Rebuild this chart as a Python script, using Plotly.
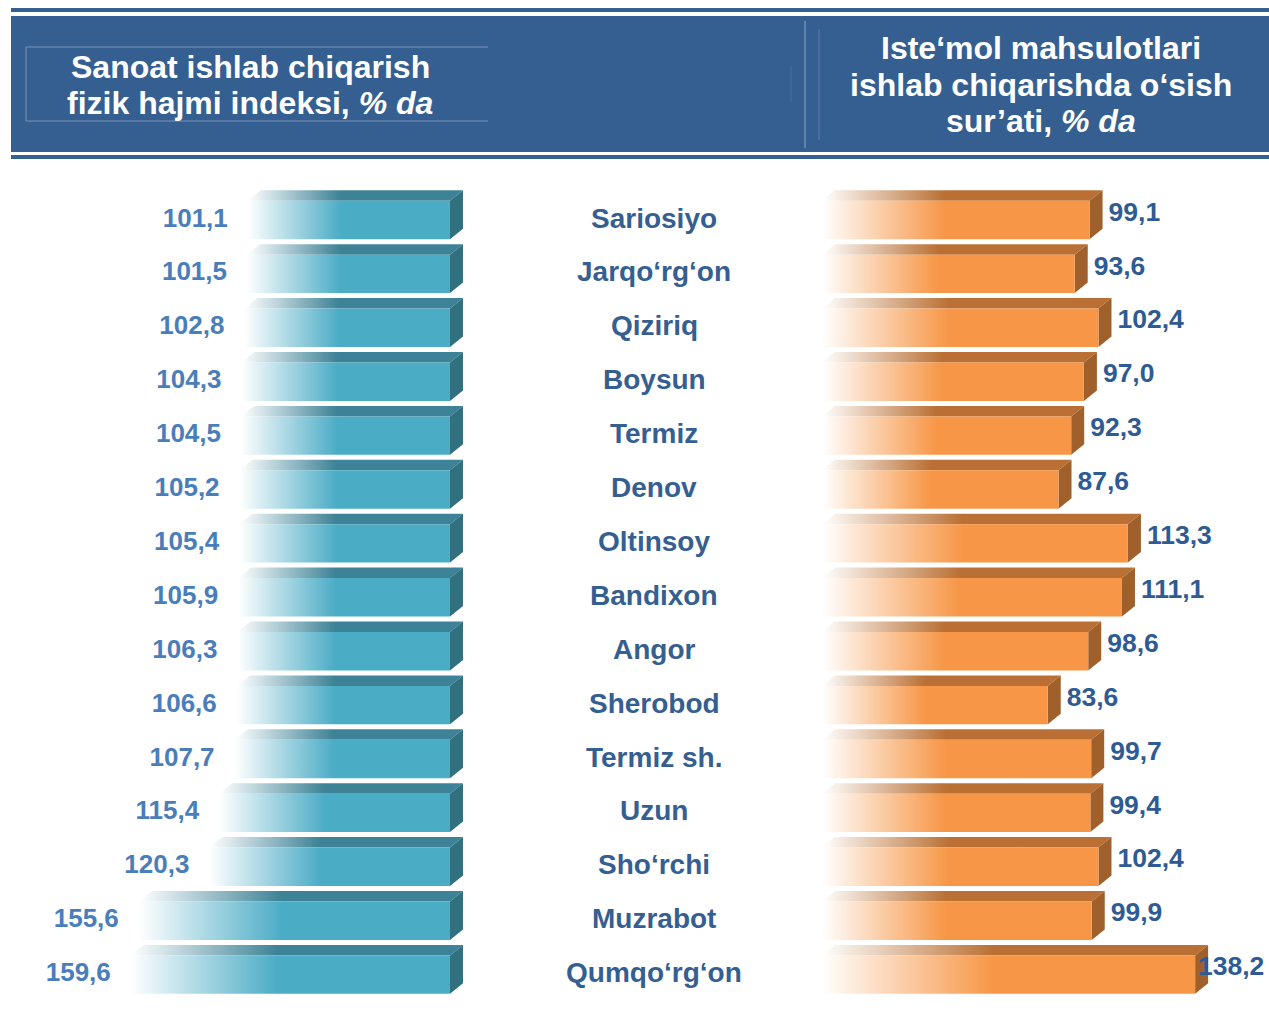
import plotly.graph_objects as go

categories = ["Sariosiyo", "Jarqo‘rg‘on", "Qiziriq", "Boysun", "Termiz", "Denov",
              "Oltinsoy", "Bandixon", "Angor", "Sherobod", "Termiz sh.", "Uzun",
              "Sho‘rchi", "Muzrabot", "Qumqo‘rg‘on"]
industry_index = [101.1, 101.5, 102.8, 104.3, 104.5, 105.2, 105.4, 105.9,
                  106.3, 106.6, 107.7, 115.4, 120.3, 155.6, 159.6]
consumer_growth = [99.1, 93.6, 102.4, 97.0, 92.3, 87.6, 113.3, 111.1,
                   98.6, 83.6, 99.7, 99.4, 102.4, 99.9, 138.2]
left_title = ["Sanoat ishlab chiqarish", "fizik hajmi indeksi, <i>% da</i>"]
right_title = ["Iste‘mol mahsulotlari", "ishlab chiqarishda o‘sish", "sur’ati, <i>% da</i>"]

W, H = 1269, 1020
ROW0, STEP = 220, 53.9          # pixel centre of first bar face, row pitch
L_ZERO, L_SCALE = 450, 2.0      # left bars grow leftwards from x=450
R_ZERO, R_SCALE = 822, 2.7      # right bars grow rightwards from x=822
FONT = "Arial, 'Liberation Sans', sans-serif"

TEAL, TEAL_TOP, TEAL_SIDE = "#4BACC6", "#3D8296", "#31707F"
ORANGE, ORANGE_TOP, ORANGE_SIDE = "#F79646", "#BA7034", "#A0602B"

half = 19.2 / STEP       # half height of front face (row units)
dy = 10.5 / STEP         # depth of the top face
dxl = 13 / L_SCALE       # depth of side face, left axis units
dxr = 13 / R_SCALE


def fmt(v):
    return f"{v:.1f}".replace(".", ",")


def px(x):
    return x / W


def py(y):
    return 1 - y / H


def face(xs, ys, axis, color=None, grad=None):
    kw = dict(x=xs + [xs[0]], y=ys + [ys[0]], mode="lines", fill="toself",
              line=dict(width=0), hoverinfo="skip", showlegend=False, xaxis=axis, yaxis="y")
    if grad:
        start, stop, col = grad
        kw["fillgradient"] = dict(type="horizontal", start=start, stop=stop,
                                  colorscale=[[0, "#ffffff"], [0.46, col], [1, col]])
    else:
        kw["fillcolor"] = color
    return go.Scatter(**kw)


fig = go.Figure()

for i, v in enumerate(industry_index):
    top, bot = i - half, i + half
    fig.add_trace(face([v, 0, -dxl, v - dxl], [top, top, top - dy, top - dy], "x",
                       grad=(v, 0, TEAL_TOP)))
    fig.add_trace(face([0, -dxl, -dxl, 0], [top, top - dy, bot - dy, bot], "x", color=TEAL_SIDE))
    fig.add_trace(face([v, 0, 0, v], [top, top, bot, bot], "x", grad=(v, 0, TEAL)))

for i, v in enumerate(consumer_growth):
    top, bot = i - half, i + half
    fig.add_trace(face([0, v, v + dxr, dxr], [top, top, top - dy, top - dy], "x2",
                       grad=(0, v, ORANGE_TOP)))
    fig.add_trace(face([v, v + dxr, v + dxr, v], [top, top - dy, bot - dy, bot], "x2",
                       color=ORANGE_SIDE))
    fig.add_trace(face([0, v, v, 0], [top, top, bot, bot], "x2", grad=(0, v, ORANGE)))

rows = list(range(len(categories)))

# value labels
fig.add_trace(go.Scatter(
    x=[v + 20 / L_SCALE for v in industry_index], y=rows, mode="text",
    text=[fmt(v) for v in industry_index], textposition="middle left",
    textfont=dict(family=FONT, size=26, color="#4A7EBB", weight="bold"),
    xaxis="x", yaxis="y", cliponaxis=False, hoverinfo="skip", showlegend=False))

r_cap = (1198 - R_ZERO) / R_SCALE
fig.add_trace(go.Scatter(
    x=[min(v + 19 / R_SCALE, r_cap) for v in consumer_growth],
    y=[r - 6 / STEP for r in rows], mode="text",
    text=[fmt(v) for v in consumer_growth], textposition="middle right",
    textfont=dict(family=FONT, size=26.5, color="#2F5B94", weight="bold"),
    xaxis="x2", yaxis="y", cliponaxis=False, hoverinfo="skip", showlegend=False))

annotations = []
for r, name in zip(rows, categories):
    annotations.append(dict(x=px(654), y=r - 2 / STEP, xref="paper", yref="y", text=name,
                            showarrow=False, xanchor="center", yanchor="middle",
                            font=dict(family=FONT, size=28, color="#365F91", weight="bold")))

# header
for text, yy in zip(left_title, [67, 103]):
    annotations.append(dict(x=px(250), y=py(yy), xref="paper", yref="paper", text=text,
                            showarrow=False, xanchor="center", yanchor="middle",
                            font=dict(family=FONT, size=32, color="white", weight="bold")))
for text, yy in zip(right_title, [48, 85, 121]):
    annotations.append(dict(x=px(1041), y=py(yy), xref="paper", yref="paper", text=text,
                            showarrow=False, xanchor="center", yanchor="middle",
                            font=dict(family=FONT, size=32, color="white", weight="bold")))

BAND = "#365F91"
shapes = []
for y0, y1 in [(8, 12), (16, 152), (155, 159)]:
    shapes.append(dict(type="rect", xref="paper", yref="paper", x0=px(11), x1=1,
                       y0=py(y1), y1=py(y0), fillcolor=BAND, line=dict(width=0), layer="below"))
box_line = dict(color="#7893B8", width=1)
shapes += [
    dict(type="line", xref="paper", yref="paper", x0=px(26), x1=px(488), y0=py(47), y1=py(47), line=box_line),
    dict(type="line", xref="paper", yref="paper", x0=px(26), x1=px(488), y0=py(121), y1=py(121), line=box_line),
    dict(type="line", xref="paper", yref="paper", x0=px(26), x1=px(26), y0=py(47), y1=py(121), line=box_line),
    dict(type="line", xref="paper", yref="paper", x0=px(805), x1=px(805), y0=py(21), y1=py(148),
         line=dict(color="#6F8FB8", width=1.5)),
    dict(type="line", xref="paper", yref="paper", x0=px(819), x1=px(819), y0=py(29), y1=py(140),
         line=dict(color="#5D7FAB", width=1)),
    dict(type="line", xref="paper", yref="paper", x0=px(791), x1=px(791), y0=py(66), y1=py(102),
         line=dict(color="#4B6E9E", width=1)),
]

fig.update_layout(
    width=W, height=H, margin=dict(l=0, r=0, t=0, b=0),
    paper_bgcolor="white", plot_bgcolor="white", showlegend=False,
    xaxis=dict(domain=[px(10), px(470)], range=[(L_ZERO - 10) / L_SCALE, -(470 - L_ZERO) / L_SCALE],
               visible=False, fixedrange=True),
    xaxis2=dict(domain=[px(815), 1], range=[-(R_ZERO - 815) / R_SCALE, (W - R_ZERO) / R_SCALE],
                visible=False, anchor="y", fixedrange=True),
    yaxis=dict(domain=[0, 1], range=[(H - ROW0) / STEP, -ROW0 / STEP], visible=False, fixedrange=True),
    annotations=annotations, shapes=shapes,
)

fig.write_html("out.html", post_script="document.body.style.margin='0';",
               config={"displayModeBar": False})
